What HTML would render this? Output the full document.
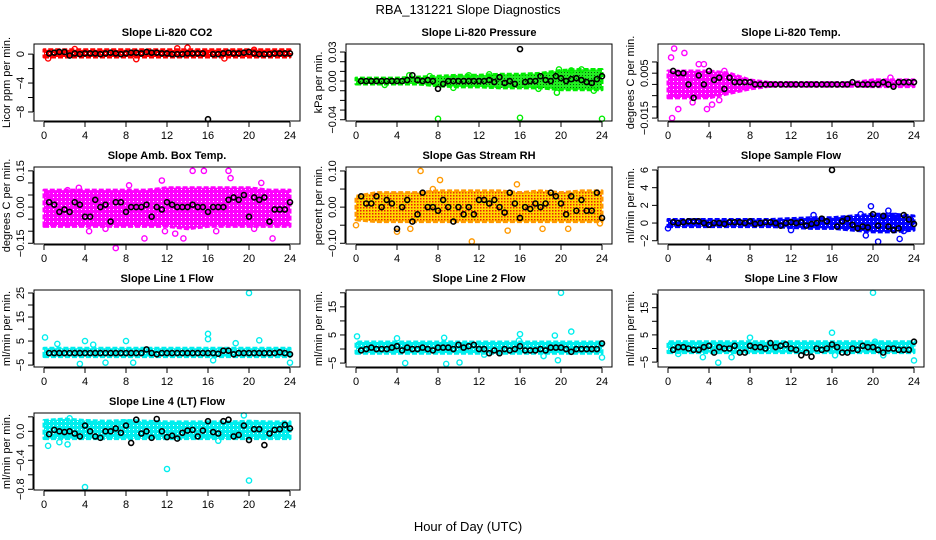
<!DOCTYPE html>
<html><head><meta charset="utf-8">
<style>
html,body{margin:0;padding:0;background:#fff;}
svg{display:block;font-family:"Liberation Sans",sans-serif;}
</style></head>
<body>
<svg id="chart" width="936" height="540" viewBox="0 0 936 540">
<defs>
<pattern id="rhPat" width="3" height="3" patternUnits="userSpaceOnUse"><rect width="3" height="3" fill="#ffd800"/><rect x="0" y="0" width="1.5" height="1.5" fill="#e8200a"/></pattern>
<pattern id="grPat" width="3" height="3" patternUnits="userSpaceOnUse"><rect width="3" height="3" fill="#22ee22"/><rect x="0" y="0" width="1" height="1" fill="#0a5a0a"/></pattern>
<pattern id="mgPat" width="4" height="4" patternUnits="userSpaceOnUse"><rect width="4" height="4" fill="#ff00ff"/><rect x="1" y="1" width="1" height="1" fill="#fff"/></pattern>
<pattern id="cyPat" width="4" height="4" patternUnits="userSpaceOnUse"><rect width="4" height="4" fill="#00eeee"/><rect x="1" y="1" width="1" height="1" fill="#fff"/></pattern>
<pattern id="rdPat" width="4" height="4" patternUnits="userSpaceOnUse"><rect width="4" height="4" fill="#ff0000"/><rect x="1" y="1" width="1" height="1" fill="#fff"/></pattern>
<pattern id="blPat" width="4" height="4" patternUnits="userSpaceOnUse"><rect width="4" height="4" fill="#0000ff"/><rect x="1" y="1" width="1" height="1" fill="#fff"/></pattern>
</defs>
<text x="468" y="14" text-anchor="middle" font-size="13">RBA_131221  Slope Diagnostics</text>
<text x="468" y="531" text-anchor="middle" font-size="13">Hour of Day (UTC)</text>
</svg>
<script>
// shared categories
const xTicks = [0,4,8,12,16,20,24];
const bandHours = [0,2,4,6,8,10,12,14,16,18,20,22,24];
const blackHours = [0.5,1,1.5,2,2.5,3,3.5,4,4.5,5,5.5,6,6.5,7,7.5,8,8.5,9,9.5,10,10.5,11,11.5,12,12.5,13,13.5,14,14.5,15,15.5,16,16.5,17,17.5,18,18.5,19,19.5,20,20.5,21,21.5,22,22.5,23,23.5,24];

// Panel 1: Li-820 CO2
const p1Lo = [-0.4,-0.4,-0.4,-0.4,-0.4,-0.4,-0.4,-0.4,-0.4,-0.4,-0.4,-0.4,-0.4];
const p1Hi = [0.6,0.6,0.6,0.6,0.6,0.6,0.6,0.6,0.6,0.6,0.6,0.6,0.6];
const p1Out = [[0.4,-0.6],[9,-0.7],[13,0.8],[14,0.9],[17.6,-0.6],[3,0.7],[20.5,0.6]];
const p1Black = [0.1,0.2,0.3,0.3,-0.2,0.1,0.0,0.1,0.1,0.1,0.0,0.1,0.2,0.1,0.0,0.1,0.2,0.2,0.1,0.3,0.2,0.2,0.1,0.1,0.0,0.0,0.0,0.1,0.1,0.1,0.1,-9.0,0.0,0.0,0.1,0.2,0.1,0.1,0.2,0.3,0.1,0.0,0.0,0.0,0.1,0.1,0.1,0.1];

// Panel 2: Li-820 Pressure
const p2Lo = [-0.003,-0.003,-0.003,-0.003,-0.005,-0.006,-0.006,-0.007,-0.007,-0.007,-0.009,-0.009,-0.009];
const p2Hi = [0.003,0.003,0.003,0.004,0.005,0.006,0.006,0.007,0.007,0.008,0.011,0.012,0.012];
const p2Out = [[8,-0.039],[16,-0.038],[24,-0.039],[19.6,-0.012],[19.8,0.012],[21,0.011],[23.2,-0.010],[5.2,0.006],[22,0.012],[7.2,0.005],[2.8,-0.004],[13,0.007],[9.5,-0.007],[11,0.006],[17.8,-0.008]];
const p2Black = [0.0,0.0,0.0,0.0,0.0,0.0,0.0,0.0,0.0,0.001,0.006,0.001,0.0,0.001,0.0,-0.008,-0.003,0.0,0.0,0.0,0.0,0.0,0.0,0.0,0.0,0.001,-0.001,0.004,-0.002,0.0,-0.003,0.033,-0.001,0.0,0.0,0.005,0.001,0.0,0.005,0.003,0.0,0.002,0.003,0.001,-0.001,-0.002,0.002,0.005];

// Panel 3: Li-820 Temp
const p3Lo = [-0.006,-0.006,-0.006,-0.004,-0.002,-0.0008,-0.0008,-0.0008,-0.0008,-0.0008,-0.001,-0.001,-0.001];
const p3Hi = [0.006,0.006,0.006,0.005,0.002,0.0008,0.0008,0.0008,0.0008,0.0008,0.002,0.002,0.002];
const p3Out = [[0.3,0.012],[0.6,0.016],[1.6,0.014],[0.4,-0.015],[3,0.009],[3.5,0.009],[1,-0.011],[3.8,-0.011],[5.5,0.006],[1.2,0.004],[4.3,-0.009],[21.7,0.003],[2.4,-0.008],[5,-0.007]];
const p3Black = [0.006,0.005,0.005,0.0,-0.006,0.004,0.0,0.006,0.002,0.003,-0.002,0.003,0.001,0.001,0.001,0.001,0.0,0.0,0.0,0.0,0.0,0.0,0.0,0.0,0.0,0.0,0.0,0.0,0.0,0.0,0.0,0.0,0.0,0.0,0.0,0.001,0.0,0.0,0.0,0.0,0.0,0.001,0.0,-0.001,0.001,0.001,0.001,0.001];

// Panel 4: Amb. Box Temp
const p4Lo = [-0.08,-0.08,-0.08,-0.08,-0.08,-0.08,-0.08,-0.09,-0.08,-0.08,-0.08,-0.08,-0.08];
const p4Hi = [0.07,0.07,0.07,0.07,0.07,0.07,0.08,0.08,0.08,0.08,0.08,0.07,0.07];
const p4Out = [[14.5,0.15],[15.6,0.15],[18,0.15],[7,-0.17],[22.3,-0.13],[9.8,-0.13],[13.6,-0.13],[11.5,0.11],[21.2,0.1],[3.4,0.08],[2.3,0.07],[12.8,-0.11],[16.8,-0.1],[18.2,0.12],[0.4,0.05],[4.4,-0.1],[6,-0.09],[11.8,-0.1],[20.5,-0.09],[8.3,0.09]];
const p4Black = [0.02,0.01,-0.02,-0.01,-0.02,0.02,0.01,-0.04,-0.04,0.03,0.0,0.01,-0.06,0.02,0.02,-0.02,0.0,0.0,0.0,0.01,-0.04,0.0,-0.01,0.02,0.01,0.0,0.0,0.0,0.01,0.0,0.0,-0.02,0.0,0.0,0.0,0.03,0.04,0.03,0.05,-0.04,0.04,0.03,0.04,-0.06,-0.01,-0.01,-0.01,0.02];

// Panel 5: Gas Stream RH
const p5Lo = [-0.035,-0.04,-0.04,-0.04,-0.04,-0.04,-0.04,-0.04,-0.04,-0.04,-0.04,-0.04,-0.04];
const p5Hi = [0.03,0.04,0.04,0.04,0.045,0.045,0.045,0.045,0.04,0.045,0.04,0.045,0.045];
const p5Out = [[6.3,0.1],[11.3,-0.095],[15.7,0.063],[8.2,0.075],[0,-0.05],[4,-0.068],[18.2,-0.06],[20.7,-0.06],[5.3,-0.06],[14.8,-0.065],[7.5,0.05],[23.8,-0.045]];
const p5Black = [0.03,0.01,0.01,0.03,0.0,0.02,0.01,-0.06,0.0,0.02,-0.04,-0.02,0.04,0.0,0.0,-0.01,0.02,0.0,-0.04,0.0,-0.02,0.0,-0.02,0.02,0.02,0.01,0.02,0.0,-0.015,0.04,0.01,-0.03,0.0,-0.005,0.01,0.0,0.01,0.04,0.03,0.01,-0.02,0.03,-0.01,0.02,-0.01,-0.01,0.04,-0.03];

// Panel 6: Sample Flow
const p6Lo = [-0.4,-0.4,-0.4,-0.4,-0.4,-0.4,-0.5,-0.6,-0.6,-0.8,-1.0,-1.0,-0.8];
const p6Hi = [0.4,0.4,0.4,0.4,0.4,0.4,0.5,0.6,0.6,0.8,1.0,1.0,0.8];
const p6Out = [[19.8,1.9],[20.5,-2.1],[22.6,-1.8],[21.5,1.4],[19.3,-1.4],[0,-0.6],[14.2,0.9],[18.8,1.0],[12,-0.8],[22.2,0.8],[23,-0.9]];
const p6Black = [0.1,0.0,0.1,0.2,0.2,0.2,0.0,-0.2,0.0,0.0,-0.1,0.1,0.1,0.1,0.0,0.2,-0.1,0.0,0.1,0.1,0.0,-0.3,0.0,0.1,0.0,0.1,-0.3,-0.1,0.0,0.5,0.2,6.0,-0.4,0.2,0.5,-0.2,-0.6,-0.4,-0.5,1.0,-0.3,0.8,-0.4,-0.8,-0.6,0.9,0.4,-0.1];

// Panel 7: Line 1 Flow
const p7Lo = [-1.5,-1.5,-1.5,-1.5,-1.5,-1.5,-1.5,-1.5,-1.5,-1.5,-1.5,-1.5,-1.5];
const p7Hi = [2,2,2,2,2,2,2,2,2,2,2,2,2];
const p7Out = [[0.1,6.5],[20,25],[16,8],[16,5.8],[3.5,-4.5],[8,5],[4,5],[21,5.3],[6,-4],[8.7,-4],[24,-4],[1.3,3.8],[4.8,3.5],[18.7,4.1],[16.5,-3]];
const p7Black = [0.0,0.0,0.0,0.0,0.0,0.0,0.0,0.0,0.0,0.0,0.0,0.0,0.0,0.0,0.0,0.0,0.0,0.0,0.0,1.5,0.0,-0.5,0.0,0.0,0.0,0.0,0.0,0.0,0.0,0.0,0.0,0.0,0.0,-0.3,1.0,1.0,-0.5,0.0,0.0,0.0,0.0,0.0,0.0,0.0,0.0,0.3,0.0,-0.5];

// Panel 8: Line 2 Flow
const p8Lo = [-1.5,-1.5,-1.5,-1.5,-1.5,-1.5,-1.5,-1.5,-1.5,-1.5,-1.5,-1.5,-1.5];
const p8Hi = [2.5,2.5,2.5,2.5,2.5,2.5,2.5,2.5,2.5,2.5,2.5,2.5,2.5];
const p8Out = [[20,20],[0.1,4.5],[16,5.3],[21,6.2],[8.6,4],[4.8,-5],[8.8,-5.3],[10.1,-4.8],[19.7,-4],[24,-3],[19.4,4.8],[4,3.8],[15.9,3],[18.3,-2.5],[12.5,-2]];
const p8Black = [-0.5,0.0,0.5,0.0,0.0,0.0,0.5,1.0,-0.5,0.5,0.0,0.0,0.5,0.0,-0.5,0.5,0.5,0.5,0.0,1.5,0.5,1.0,1.5,0.0,0.0,-1.5,-0.5,-1.5,0.0,-0.5,0.0,1.0,-0.5,-0.5,-0.5,0.0,-0.5,0.5,0.5,0.5,0.0,-1.0,0.0,0.0,0.0,0.0,0.0,2.0];

// Panel 9: Line 3 Flow
const p9Lo = [-1.5,-1.5,-1.5,-1.5,-1.5,-1.5,-1.5,-1.5,-1.5,-1.5,-1.5,-1.5,-1.5];
const p9Hi = [2.5,2.5,2.5,2.5,2.5,2.5,2.5,2.5,2.5,2.5,2.5,2.5,2.5];
const p9Out = [[20,20.5],[16,5.8],[8,4],[4.9,-5.2],[24,-4.4],[3.4,-3.2],[6.2,-3.2],[1,-2],[16.3,-2.5],[21,-2.5],[20.2,2.5]];
const p9Black = [-0.5,0.5,0.5,0.0,-0.5,-0.5,0.5,1.0,-1.5,0.5,0.0,0.0,1.0,-1.5,-1.5,1.0,0.5,0.5,0.0,2.0,0.5,1.0,1.5,0.0,-0.5,-2.5,-1.5,-3.0,0.0,-0.5,0.0,1.5,0.5,-1.5,-1.5,0.0,-0.5,1.0,0.5,0.5,-0.5,-1.5,0.0,0.0,-0.5,-0.5,-0.5,2.5];

// Panel 10: Line 4 (LT) Flow
const p10Lo = [-0.1,-0.1,-0.1,-0.1,-0.1,-0.1,-0.1,-0.1,-0.1,-0.1,-0.1,-0.1,-0.1];
const p10Hi = [0.15,0.17,0.15,0.14,0.15,0.14,0.13,0.13,0.13,0.13,0.14,0.13,0.13];
const p10Out = [[4,-0.77],[12,-0.52],[20,-0.68],[0.4,-0.2],[19.5,0.22],[2.3,-0.18],[1.5,-0.15],[17,-0.13],[2.5,0.18],[8.1,0.12]];
const p10Black = [-0.04,0.02,0.0,-0.01,0.0,-0.03,-0.07,0.08,0.0,-0.07,-0.09,0.0,0.0,0.04,-0.02,0.08,-0.16,0.16,-0.03,0.0,-0.09,0.17,0.0,-0.08,-0.06,-0.1,-0.02,0.01,0.02,-0.07,0.01,0.14,-0.01,-0.03,0.14,0.16,-0.07,-0.05,0.08,-0.12,0.03,0.03,-0.19,-0.03,0.02,0.03,0.09,0.04];

const SVGNS = "http://www.w3.org/2000/svg";
const svg = document.getElementById('chart');
function mk(tag, attrs, parent){
  const e = document.createElementNS(SVGNS, tag);
  for (const k in attrs) e.setAttribute(k, attrs[k]);
  (parent||svg).appendChild(e);
  return e;
}

const colLeft = [34, 346, 658];
const rowTop = [44, 167, 290, 413];
const boxW = 266, boxH = 77;

const panels = [
 {key:'co2', title:'Slope Li-820 CO2', ylab:'Licor ppm per min.', col:0,row:0, ymin:-9.25, ymax:1.4, ticks:[0,-2,-4,-6,-8], labels:[[0,'0'],[-4,'−4'],[-8,'−8']], lo:p1Lo, hi:p1Hi, out:p1Out, blk:p1Black, color:'#ff0000', fill:'url(#rdPat)'},
 {key:'pressure', title:'Slope Li-820 Pressure', ylab:'kPa per min.', col:1,row:0, ymin:-0.0413, ymax:0.0383, ticks:[0.03,0.02,0.01,0,-0.01,-0.02,-0.03,-0.04], labels:[[0.03,'0.03'],[0,'0.00'],[-0.04,'−0.04']], lo:p2Lo, hi:p2Hi, out:p2Out, blk:p2Black, color:'#00ee00', fill:'url(#grPat)'},
 {key:'li820-temp', title:'Slope Li-820 Temp.', ylab:'degrees C per min.', col:2,row:0, ymin:-0.0163, ymax:0.018, ticks:[0.01,0.005,0,-0.005,-0.01,-0.015], labels:[[0.005,'0.005'],[-0.015,'−0.015']], lo:p3Lo, hi:p3Hi, out:p3Out, blk:p3Black, color:'#ff00ff', fill:'url(#mgPat)'},
 {key:'amb-box-temp', title:'Slope Amb. Box Temp.', ylab:'degrees C per min.', col:0,row:1, ymin:-0.153, ymax:0.166, ticks:[0.15,0.1,0.05,0,-0.05,-0.1,-0.15], labels:[[0.15,'0.15'],[0,'0.00'],[-0.15,'−0.15']], lo:p4Lo, hi:p4Hi, out:p4Out, blk:p4Black, color:'#ff00ff', fill:'url(#mgPat)'},
 {key:'gas-rh', title:'Slope Gas Stream RH', ylab:'percent per min.', col:1,row:1, ymin:-0.102, ymax:0.111, ticks:[0.1,0.05,0,-0.05,-0.1], labels:[[0.1,'0.10'],[0,'0.00'],[-0.1,'−0.10']], lo:p5Lo, hi:p5Hi, out:p5Out, blk:p5Black, color:'#ff9900', fill:'url(#rhPat)'},
 {key:'sample-flow', title:'Slope Sample Flow', ylab:'ml/min per min.', col:2,row:1, ymin:-2.37, ymax:6.34, ticks:[6,4,2,0,-2], labels:[[6,'6'],[4,'4'],[2,'2'],[0,'0'],[-2,'−2']], lo:p6Lo, hi:p6Hi, out:p6Out, blk:p6Black, color:'#0000ff', fill:'url(#blPat)'},
 {key:'line1-flow', title:'Slope Line 1 Flow', ylab:'ml/min per min.', col:0,row:2, ymin:-5.8, ymax:26.25, ticks:[25,20,15,10,5,0,-5], labels:[[25,'25'],[15,'15'],[5,'5'],[-5,'−5']], lo:p7Lo, hi:p7Hi, out:p7Out, blk:p7Black, color:'#00eeee', fill:'url(#cyPat)'},
 {key:'line2-flow', title:'Slope Line 2 Flow', ylab:'ml/min per min.', col:1,row:2, ymin:-6.4, ymax:21, ticks:[20,15,10,5,0,-5], labels:[[15,'15'],[5,'5'],[-5,'−5']], lo:p8Lo, hi:p8Hi, out:p8Out, blk:p8Black, color:'#00eeee', fill:'url(#cyPat)'},
 {key:'line3-flow', title:'Slope Line 3 Flow', ylab:'ml/min per min.', col:2,row:2, ymin:-6.8, ymax:21.5, ticks:[20,15,10,5,0,-5], labels:[[15,'15'],[5,'5'],[-5,'−5']], lo:p9Lo, hi:p9Hi, out:p9Out, blk:p9Black, color:'#00eeee', fill:'url(#cyPat)'},
 {key:'line4-flow', title:'Slope Line 4 (LT) Flow', ylab:'ml/min per min.', col:0,row:3, ymin:-0.81, ymax:0.253, ticks:[0.2,0,-0.2,-0.4,-0.6,-0.8], labels:[[0,'0.0'],[-0.4,'−0.4'],[-0.8,'−0.8']], lo:p10Lo, hi:p10Hi, out:p10Out, blk:p10Black, color:'#00eeee', fill:'url(#cyPat)'}
];

panels.forEach(p => {
  const L = colLeft[p.col], T = rowTop[p.row];
  const xs = h => L + 10 + h/24*(boxW-20);
  const ys = v => T + (p.ymax - v)/(p.ymax - p.ymin)*boxH;
  const g = mk('g', {});
  
  

  const ttl = mk('text', {x: L + boxW/2, y: T - 8, 'text-anchor':'middle', 'font-size':11, 'font-weight':'bold'}, g);
  ttl.textContent = p.title;
  
  

  let pts = p.lo.map((v,i)=> xs(bandHours[i])+','+ys(v));
  pts = pts.concat(p.hi.map((v,i)=> xs(bandHours[i])+','+ys(v)).reverse());
  const band = mk('polygon', {points: pts.join(' '), fill: p.fill, stroke: p.color, 'stroke-width': 3, 'stroke-dasharray':'5 2', 'stroke-linejoin':'round'}, g);
  
  

  p.out.forEach(o => {
    const c = mk('circle', {cx: xs(o[0]), cy: ys(o[1]), r: 2.6, fill:'none', stroke: p.color, 'stroke-width': 1.4}, g);
    
    
  });
  p.blk.forEach((v,i) => {
    const c = mk('circle', {cx: xs(blackHours[i]), cy: ys(v), r: 2.5, fill:'none', stroke:'#000', 'stroke-width': 1.6}, g);
    
    
  });

  const box = mk('rect', {x:L, y:T, width:boxW, height:boxH, fill:'none', stroke:'#000', 'stroke-width':1}, g);
  
  

  const B = T + boxH;
  mk('line', {x1: xs(0), x2: xs(24), y1: B+1, y2: B+1, stroke:'#000'}, g);
  xTicks.forEach(t => {
    mk('line', {x1: xs(t), x2: xs(t), y1: B+1, y2: B+6, stroke:'#000'}, g);
    const tx = mk('text', {x: xs(t), y: B+18, 'text-anchor':'middle', 'font-size':11}, g);
    tx.textContent = t;
    
    
  });
  mk('line', {x1: L-1, x2: L-1, y1: ys(p.ticks[0]), y2: ys(p.ticks[p.ticks.length-1]), stroke:'#000'}, g);
  p.ticks.forEach(t => {
    mk('line', {x1: L-6, x2: L-1, y1: ys(t), y2: ys(t), stroke:'#000'}, g);
  });
  p.labels.forEach(l => {
    const tx = mk('text', {x: L-10, y: ys(l[0]), 'text-anchor':'middle', 'font-size':11, transform:'rotate(-90 '+(L-10)+' '+ys(l[0])+')'}, g);
    tx.textContent = l[1];
    
    
  });
  const yl = mk('text', {x: L-24, y: T + boxH/2, 'text-anchor':'middle', 'font-size':11, transform:'rotate(-90 '+(L-24)+' '+(T+boxH/2)+')'}, g);
  yl.textContent = p.ylab;
  
  
});
</script>
</body></html>
